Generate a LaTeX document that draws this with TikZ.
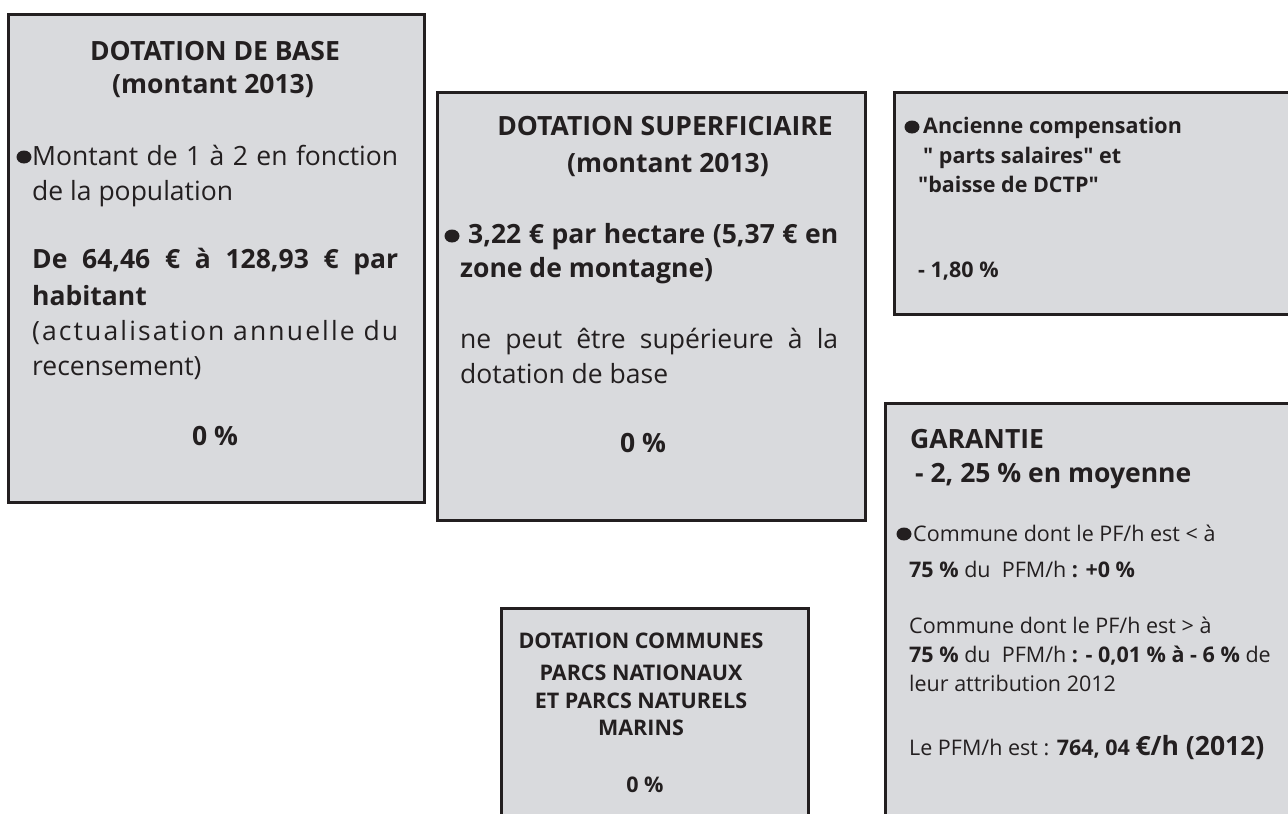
\documentclass[tikz,border=0pt]{standalone}
\usepackage{fontspec}
\usetikzlibrary{shapes.geometric}
\setmainfont{Open Sans}[Ligatures=TeXOff]
\definecolor{ink}{HTML}{231F20}
\definecolor{boxgray}{HTML}{D9DADD}
\newcommand{\fsA}{\fontsize{26.5}{31}\selectfont}
\newcommand{\fsB}{\fontsize{21.5}{25}\selectfont}
\newcommand{\fsC}{\fontsize{21.5}{25}\selectfont}
\newcommand{\spaced}{\addfontfeature{LetterSpace=8}}
\begin{document}
\begin{tikzpicture}[x=1pt,y=-1pt,
  panel/.style={draw=ink,fill=boxgray,line width=2.5pt,rectangle,inner sep=0pt,anchor=north west},
  txt/.style={anchor=base west,inner sep=0pt,text=ink},
  ctxt/.style={anchor=base,inner sep=0pt,text=ink,align=center},
  bullet/.style={ellipse,fill=ink,inner sep=0pt,minimum width=15pt,minimum height=13pt}]
\useasboundingbox (0,0) rectangle (1288,814);
\clip (0,0) rectangle (1288,814);
% panels
\node[panel,minimum width=416pt,minimum height=488pt] (b1) at (7,13) {};
\node[panel,minimum width=428pt,minimum height=428pt] (b2) at (436,91) {};
\node[panel,minimum width=410pt,minimum height=222pt] (b3) at (893,91) {};
\node[panel,minimum width=420pt,minimum height=430pt] (b4) at (884,402) {};
\node[panel,minimum width=307pt,minimum height=220pt] (b5) at (500,607) {};
% box 1
\node[ctxt,font=\fsA\bfseries] (t1a) at (215,60) {DOTATION DE BASE};
\node[ctxt,font=\fsA\bfseries] (t1b) at (213,93) {(montant 2013)};
\node[bullet] (d1) at (24,157) {};
\node[txt,font=\fsA] (t1c) at (32,165) {\makebox[366pt][s]{Montant de 1 à 2 en fonction}};
\node[txt,font=\fsA] (t1d) at (32,200) {de la population};
\node[txt,font=\fsA\bfseries] (t1e) at (32,268) {\makebox[366pt][s]{De 64,46 € à 128,93 € par}};
\node[txt,font=\fsA\bfseries] (t1f) at (32,305) {habitant};
\node[txt,font=\fsA] (t1g) at (32,340) {\makebox[366pt][s]{\spaced (actualisation annuelle du}};
\node[txt,font=\fsA] (t1h) at (32,375) {recensement)};
\node[ctxt,font=\fsA\bfseries] (t1i) at (215,445) {0 \%};
% box 2
\node[ctxt,font=\fsA\bfseries] (t2a) at (665,135) {DOTATION SUPERFICIAIRE};
\node[ctxt,font=\fsA\bfseries] (t2b) at (668,172) {(montant 2013)};
\node[bullet] (d2) at (452,236) {};
\node[txt,font=\fsA\bfseries] (t2c) at (468,243) {\makebox[370pt][s]{3,22 € par hectare (5,37 € en}};
\node[txt,font=\fsA\bfseries] (t2d) at (460,277) {zone de montagne)};
\node[txt,font=\fsA] (t2e) at (460,348) {\makebox[378pt][s]{ne peut être supérieure à la}};
\node[txt,font=\fsA] (t2f) at (460,383) {dotation de base};
\node[ctxt,font=\fsA\bfseries] (t2g) at (643,452) {0 \%};
% box 3
\node[bullet] (d3) at (912,127) {};
\node[txt,font=\fsB\bfseries] (t3a) at (923,133) {Ancienne compensation};
\node[txt,font=\fsB\bfseries] (t3b) at (923,163) {" parts salaires" et};
\node[txt,font=\fsB\bfseries] (t3c) at (918,192) {"baisse de DCTP"};
\node[txt,font=\fsB\bfseries] (t3d) at (918,277) {- 1,80 \%};
% box 4
\node[txt,font=\fsA\bfseries] (t4a) at (910,448) {GARANTIE};
\node[txt,font=\fsA\bfseries] (t4b) at (915,482) {- 2, 25 \% en moyenne};
\node[bullet] (d4) at (904,534) {};
\node[txt,font=\fsB] (t4c) at (913,541) {Commune dont le PF/h est < à};
\node[txt,font=\fsB] (t4d) at (909,577) {\textbf{75 \%} du\ \ PFM/h \textbf{: +0 \%}};
\node[txt,font=\fsB] (t4e) at (909,633) {Commune dont le PF/h est > à};
\node[txt,font=\fsB] (t4f) at (909,662) {\textbf{75 \%} du\ \ PFM/h \textbf{: - 0,01 \% à - 6 \%} de};
\node[txt,font=\fsB] (t4g) at (909,691) {leur attribution 2012};
\node[txt,font=\fsB] (t4h) at (909,755) {Le PFM/h est : \textbf{764, 04 {\fsA €/h (2012)}}};
% box 5
\node[ctxt,font=\fsC\bfseries] (t5a) at (641,648) {DOTATION COMMUNES};
\node[ctxt,font=\fsC\bfseries] (t5b) at (641,680) {PARCS NATIONAUX};
\node[ctxt,font=\fsC\bfseries] (t5c) at (641,708) {ET PARCS NATURELS};
\node[ctxt,font=\fsC\bfseries] (t5d) at (641,735) {MARINS};
\node[ctxt,font=\fsC\bfseries] (t5e) at (645,792) {0 \%};
\end{tikzpicture}
\end{document}
